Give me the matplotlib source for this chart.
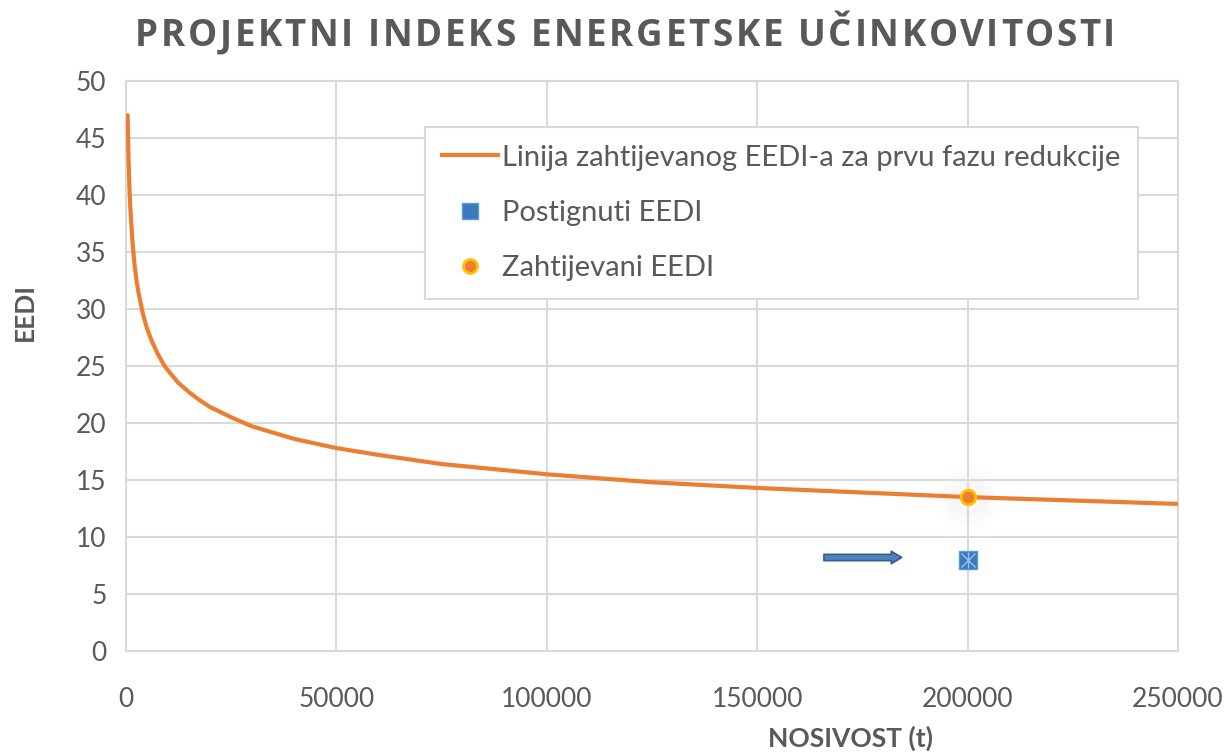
import matplotlib.pyplot as plt
from matplotlib.lines import Line2D
from matplotlib.font_manager import FontProperties

# data
nosivost = [400, 600, 800, 1000, 1500, 2000, 2500, 3000, 4000, 5000, 6000, 7500,
            9000, 10000, 12500, 15000, 17500, 20000, 25000, 30000, 40000, 50000,
            60000, 75000, 100000, 125000, 150000, 175000, 200000, 225000, 250000]
eedi_linija = [47.0, 43.3, 40.9, 39.1, 36.1, 34.0, 32.5, 31.4, 29.6, 28.3, 27.3, 26.1,
               25.1, 24.6, 23.5, 22.7, 22.0, 21.4, 20.5, 19.7, 18.6, 17.8,
               17.2, 16.4, 15.5, 14.8, 14.3, 13.9, 13.5, 13.2, 12.9]
postignuti_x = [200000]
postignuti_y = [8.0]
zahtijevani_x = [200000]
zahtijevani_y = [13.5]

naslov = 'PROJEKTNI INDEKS ENERGETSKE UČINKOVITOSTI'
siva = '#595959'
mreza = '#d9d9d9'
plt.rcParams['font.family'] = ['Lato', 'DejaVu Sans']

fig = plt.figure(figsize=(12.29, 7.53), dpi=100)
ax = fig.add_axes([0.1025, 0.1355, 0.856, 0.7569])

ax.plot(nosivost, eedi_linija, color='#ed7d31', lw=3.0, solid_capstyle='round',
        solid_joinstyle='round', zorder=3)

# soft glow around the required point
for s, a in [(48, 0.08), (38, 0.1), (28, 0.12)]:
    ax.plot(zahtijevani_x, zahtijevani_y, 'o', ms=s, color='#e6e6e6', alpha=a, mec='none', zorder=2)
ax.plot(zahtijevani_x, zahtijevani_y, 'o', ms=10.5, color='#ed7d31', mec='#ffc000', mew=2, zorder=5)

ax.plot(postignuti_x, postignuti_y, 's', ms=12.5, color='#3a78c0', mec='#5b9bd5', mew=1, zorder=5)
ax.plot(postignuti_x, postignuti_y, 'x', ms=10, color='#9dc3e6', mew=1, zorder=6)
ax.plot(postignuti_x, postignuti_y, '|', ms=12, color='#9dc3e6', mew=1, zorder=6)

ax.annotate('', xy=(185000, 8.2), xytext=(165200, 8.2),
            arrowprops=dict(arrowstyle='simple,head_width=0.9,head_length=0.75,tail_width=0.45',
                            fc='#4f81bd', ec='#385d8a', lw=1.2))

ax.set_xlim(0, 250000)
ax.set_ylim(0, 50)
ax.set_xticks(range(0, 250001, 50000))
ax.set_yticks(range(0, 51, 5))
ax.grid(True, color=mreza, lw=1.5)
ax.set_axisbelow(True)
for sp in ax.spines.values():
    sp.set_color(mreza)
    sp.set_linewidth(1.5)
ax.tick_params(length=0, labelsize=19, labelcolor=siva)
ax.tick_params(axis='x', pad=26)
ax.tick_params(axis='y', pad=14)

handles = [
    Line2D([], [], color='#ed7d31', lw=3.0),
    Line2D([], [], marker='s', ls='none', ms=12, color='#3a78c0', mec='#5b9bd5'),
    Line2D([], [], marker='o', ls='none', ms=10, color='#ed7d31', mec='#ffc000', mew=2),
]
labels = ['Linija zahtijevanog EEDI-a za prvu fazu redukcije', 'Postignuti EEDI', 'Zahtijevani EEDI']
leg = ax.legend(handles, labels, loc='upper left', bbox_to_anchor=(0.284, 0.919),
                borderaxespad=0, fancybox=False, edgecolor=mreza, fontsize=21,
                labelcolor=siva, handlelength=1.9, handletextpad=0.15, labelspacing=1.0,
                borderpad=0.6, framealpha=1)
leg.get_frame().set_linewidth(1.5)

# title with letter spacing: place character by character
rend = fig.canvas.get_renderer()
prop = FontProperties(family='Open Sans', weight='bold', size=26.5)
sirina = rend.get_text_width_height_descent(naslov, prop, ismath=False)[0]
razmak = (980 - sirina) / (len(naslov) - 1)
x0 = 135
for i, ch in enumerate(naslov):
    pomak = rend.get_text_width_height_descent(naslov[:i], prop, ismath=False)[0] if i else 0
    fig.text((x0 + pomak + i * razmak) / 1229, 1 - 36 / 753, ch, ha='left', va='center',
             fontproperties=prop, color=siva)

fig.text(850 / 1229, 1 - 738 / 753, 'NOSIVOST (t)', ha='center', va='center',
         fontsize=19, fontweight='bold', color=siva)
fig.text(25 / 1229, 1 - 312 / 753, 'EEDI', ha='center', va='center', rotation=90,
         fontsize=19, fontweight='bold', color=siva)

fig.savefig('out.png', dpi=100)
